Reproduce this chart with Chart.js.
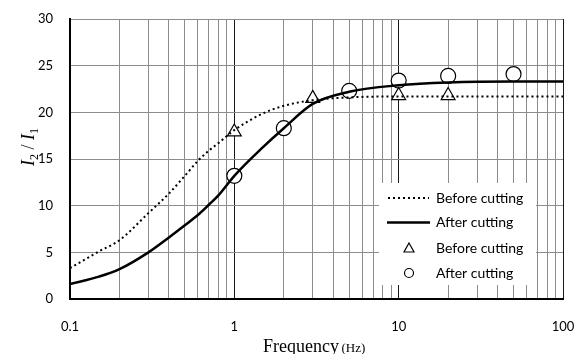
<!DOCTYPE html>
<html>
<head>
<meta charset="utf-8">
<script src="https://cdn.jsdelivr.net/npm/chart.js@4.4.1/dist/chart.umd.min.js"></script>
<style>
  html, body { margin: 0; padding: 0; background: #fff; }
  #wrap { width: 583px; height: 354px; }
</style>
</head>
<body>
<div id="wrap"><canvas id="chartRatio"></canvas></div>
<script>
// fitted curves
const freqCurve   = [0.1, 0.15, 0.2, 0.3, 0.4, 0.5, 0.6, 0.7, 0.8, 1, 1.5, 2, 3, 5, 10, 20, 50, 100];
const beforeCurve = [3.3, 5.1, 6.3, 9.2, 11.3, 13.2, 14.8, 15.9, 16.7, 18.1, 19.9, 20.7, 21.3, 21.6, 21.7, 21.7, 21.7, 21.7];
const afterCurve  = [1.6, 2.4, 3.2, 5.0, 6.6, 7.9, 9.0, 10.1, 11.1, 13.2, 16.3, 18.3, 20.9, 22.2, 22.9, 23.2, 23.3, 23.3];

// measured points
const freqBefore  = [1, 3, 10, 20];
const ratioBefore = [17.9, 21.5, 21.8, 21.8];
const freqAfter   = [1, 2, 5, 10, 20, 50];
const ratioAfter  = [13.2, 18.3, 22.3, 23.4, 23.9, 24.1];

const xTicks = [0.1, 1, 10, 100];
const legendLabels = ["Before cutting", "After cutting", "Before cutting", "After cutting"];

Chart.defaults.color = "#000";
Chart.defaults.font.family = "Lato, sans-serif";
Chart.defaults.font.size = 13;

const toXY = (xs, ys) => xs.map((x, i) => ({ x: x, y: ys[i] }));

// legend drawn inside the plot with a white box
const legendBox = {
    id: "legendBox",
    afterDatasetsDraw(chart) {
        const ctx = chart.ctx;
        const x0 = 379, y0 = 183, w = 157, h = 102;
        ctx.save();
        ctx.fillStyle = "#fff";
        ctx.fillRect(x0, y0, w, h);
        ctx.font = "14px Lato, sans-serif";
        ctx.textBaseline = "middle";
        ctx.fillStyle = "#000";
        ctx.strokeStyle = "#000";
        const rows = [198, 222.5, 248, 273];
        rows.forEach((ry, i) => {
            ctx.beginPath();
            if (i === 0) {
                ctx.lineWidth = 2;
                ctx.setLineDash([2, 3]);
                ctx.moveTo(388, ry); ctx.lineTo(429, ry);
                ctx.stroke();
                ctx.setLineDash([]);
            } else if (i === 1) {
                ctx.lineWidth = 2.5;
                ctx.moveTo(387, ry); ctx.lineTo(430, ry);
                ctx.stroke();
            } else if (i === 2) {
                ctx.lineWidth = 1.2;
                ctx.moveTo(409, ry - 5); ctx.lineTo(414, ry + 4); ctx.lineTo(404, ry + 4);
                ctx.closePath();
                ctx.stroke();
            } else {
                ctx.lineWidth = 1.2;
                ctx.arc(409, ry, 4.5, 0, Math.PI * 2);
                ctx.stroke();
            }
            ctx.fillText(legendLabels[i], 436, ry);
        });
        ctx.restore();
    }
};

// axis titles with sub/small text
const axisTitles = {
    id: "axisTitles",
    afterDraw(chart) {
        const ctx = chart.ctx;
        ctx.save();
        ctx.fillStyle = "#000";
        ctx.textBaseline = "alphabetic";
        ctx.textAlign = "left";
        ctx.font = "18px 'Liberation Serif', serif";
        ctx.fillText("Frequency", 263, 352);
        let fx = 263 + ctx.measureText("Frequency ").width - 2;
        ctx.font = "13px 'Liberation Serif', serif";
        ctx.fillText("(Hz)", fx, 352);

        ctx.translate(34, 166);
        ctx.rotate(-Math.PI / 2);
        const parts = [
            ["I", "italic 18px 'Liberation Serif', serif", 0],
            ["2", "12px 'Liberation Serif', serif", 4],
            [" / ", "18px 'Liberation Serif', serif", 0],
            ["I", "italic 18px 'Liberation Serif', serif", 0],
            ["1", "12px 'Liberation Serif', serif", 4]
        ];
        let px = 0;
        parts.forEach(p => {
            ctx.font = p[1];
            ctx.fillText(p[0], px, p[2]);
            px += ctx.measureText(p[0]).width;
        });
        ctx.restore();
    }
};

new Chart(document.getElementById("chartRatio"), {
    type: "scatter",
    data: {
        datasets: [
            {
                label: "Before cutting",
                data: toXY(freqCurve, beforeCurve),
                showLine: true,
                borderColor: "#000",
                borderWidth: 2,
                borderDash: [2, 3],
                pointRadius: 0,
                cubicInterpolationMode: "monotone"
            },
            {
                label: "After cutting",
                data: toXY(freqCurve, afterCurve),
                showLine: true,
                borderColor: "#000",
                borderWidth: 2.5,
                pointRadius: 0,
                cubicInterpolationMode: "monotone"
            },
            {
                label: "Before cutting",
                data: toXY(freqBefore, ratioBefore),
                pointStyle: "triangle",
                pointRadius: 8,
                pointBackgroundColor: "#fff",
                pointBorderColor: "#000",
                pointBorderWidth: 1.2
            },
            {
                label: "After cutting",
                data: toXY(freqAfter, ratioAfter),
                pointStyle: "circle",
                pointRadius: 7.5,
                pointBackgroundColor: "#fff",
                pointBorderColor: "#000",
                pointBorderWidth: 1.2
            }
        ]
    },
    options: {
        responsive: true,
        maintainAspectRatio: false,
        animation: false,
        layout: { padding: { top: 19, right: 20, left: 0, bottom: 0 } },
        plugins: {
            legend: { display: false },
            tooltip: { enabled: false }
        },
        scales: {
            x: {
                type: "logarithmic",
                min: 0.1,
                max: 100,
                afterFit: s => {
                    s.height = 55;
                    s.paddingLeft = 10;
                    s.paddingRight = 12;
                },
                afterBuildTicks: s => {
                    const t = [];
                    for (let d = 0.1; d < 100; d *= 10) {
                        for (let k = 1; k < 10; k++) t.push({ value: +(d * k).toPrecision(3) });
                    }
                    t.push({ value: 100 });
                    s.ticks = t;
                },
                ticks: {
                    padding: 20,
                    autoSkip: false,
                    maxRotation: 0,
                    font: { size: 13 },
                    callback: v => xTicks.includes(+v) ? String(+v) : ""
                },
                grid: {
                    drawTicks: false,
                    lineWidth: 1,
                    color: c => xTicks.includes(+c.tick.value) ? "#1a1a1a" : "#8c8c8c"
                },
                border: { color: "#000", width: 2 }
            },
            y: {
                min: 0,
                max: 30,
                afterFit: s => {
                    s.width = 70;
                    s.paddingTop = 8;
                    s.paddingBottom = 8;
                },
                ticks: { stepSize: 5, padding: 17, font: { size: 13 } },
                grid: { drawTicks: false, color: "#8c8c8c", lineWidth: 1 },
                border: { color: "#000", width: 2 }
            }
        }
    },
    plugins: [legendBox, axisTitles]
});
</script>
</body>
</html>
